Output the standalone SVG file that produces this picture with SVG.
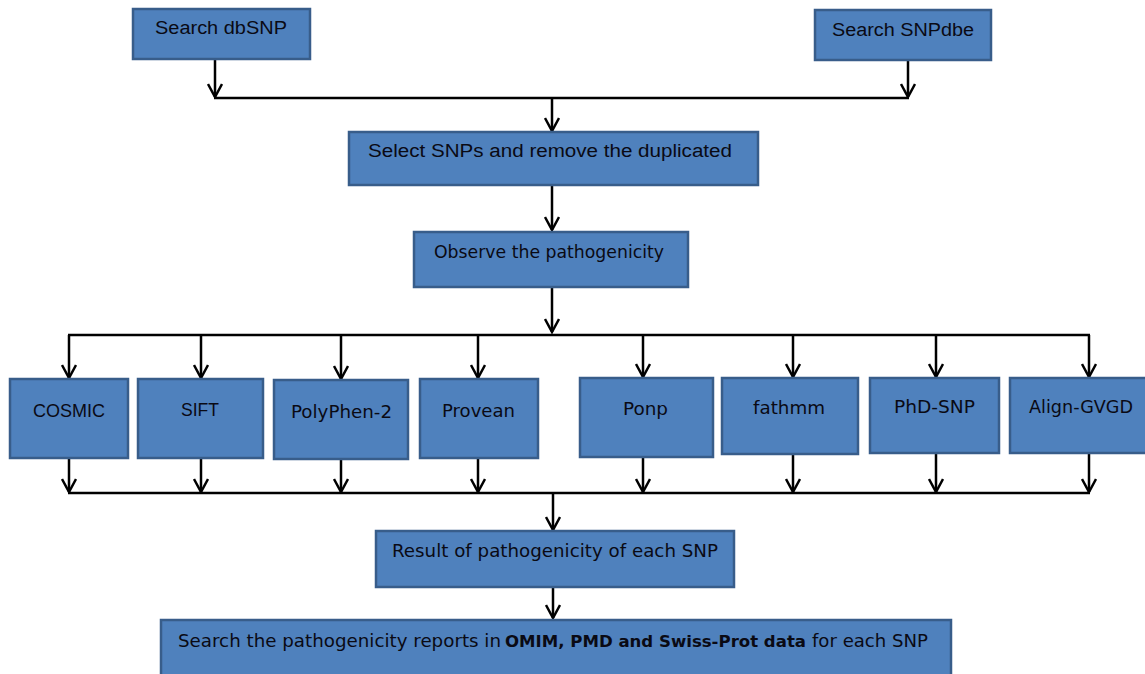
<svg xmlns="http://www.w3.org/2000/svg" width="1145" height="674" viewBox="0 0 1145 674">
<style>
.box{fill:#4F81BD;stroke:#385D8A;stroke-width:2.5}
.t{font-family:"Liberation Sans",Arial,sans-serif;font-size:18px;fill:#0a0a14}
.v{font-family:"DejaVu Sans",Verdana,sans-serif;font-size:18px;fill:#0a0a14}
.c{fill:none;stroke:#000;stroke-width:2.5}
.b{font-weight:bold;font-size:16.5px}
</style>
<defs>
<marker id="ah" markerUnits="userSpaceOnUse" viewBox="-1 -1 16 16" markerWidth="16" markerHeight="16" refX="13" refY="7" orient="auto">
<path d="M0,0 L13,7 L0,14" fill="none" stroke="#000" stroke-width="2.5"/>
</marker>
</defs>
<g id="connectors">
<path class="c" d="M215,59 V97" marker-end="url(#ah)"/>
<path class="c" d="M908,60 V97" marker-end="url(#ah)"/>
<path class="c" d="M214,98 H909"/>
<path class="c" d="M552,98 V131" marker-end="url(#ah)"/>
<path class="c" d="M552,185 V230" marker-end="url(#ah)"/>
<path class="c" d="M552,287 V332" marker-end="url(#ah)"/>
<path class="c" d="M68,335 H1090"/>
<path class="c" d="M69,335 V378" marker-end="url(#ah)"/>
<path class="c" d="M201,335 V378" marker-end="url(#ah)"/>
<path class="c" d="M341,335 V379" marker-end="url(#ah)"/>
<path class="c" d="M478,335 V378" marker-end="url(#ah)"/>
<path class="c" d="M643,335 V377" marker-end="url(#ah)"/>
<path class="c" d="M793,335 V377" marker-end="url(#ah)"/>
<path class="c" d="M936,335 V377" marker-end="url(#ah)"/>
<path class="c" d="M1089,335 V377" marker-end="url(#ah)"/>
<path class="c" d="M69,458 V492" marker-end="url(#ah)"/>
<path class="c" d="M201,458 V492" marker-end="url(#ah)"/>
<path class="c" d="M341,459 V492" marker-end="url(#ah)"/>
<path class="c" d="M478,458 V492" marker-end="url(#ah)"/>
<path class="c" d="M643,457 V492" marker-end="url(#ah)"/>
<path class="c" d="M793,454 V492" marker-end="url(#ah)"/>
<path class="c" d="M936,453 V492" marker-end="url(#ah)"/>
<path class="c" d="M1089,453 V492" marker-end="url(#ah)"/>
<path class="c" d="M68,493 H1090"/>
<path class="c" d="M553,493 V530" marker-end="url(#ah)"/>
<path class="c" d="M553,587 V618" marker-end="url(#ah)"/>
</g>
<g id="n1"><rect class="box" x="133" y="9" width="177" height="50"/><text class="t" x="155" y="34" textLength="132" lengthAdjust="spacingAndGlyphs">Search dbSNP</text></g>
<g id="n2"><rect class="box" x="815" y="10" width="176" height="50"/><text class="t" x="832" y="36" textLength="142" lengthAdjust="spacingAndGlyphs">Search SNPdbe</text></g>
<g id="n3"><rect class="box" x="349" y="132" width="409" height="53"/><text class="t" x="368" y="157" textLength="364" lengthAdjust="spacingAndGlyphs">Select SNPs and remove the duplicated</text></g>
<g id="n4"><rect class="box" x="414" y="232" width="274" height="55"/><text class="v" x="434" y="258" textLength="230" lengthAdjust="spacingAndGlyphs">Observe the pathogenicity</text></g>
<g id="n5"><rect class="box" x="10" y="379" width="118" height="79"/><text class="t" x="33" y="417" textLength="72" lengthAdjust="spacingAndGlyphs">COSMIC</text></g>
<g id="n6"><rect class="box" x="138" y="379" width="125" height="79"/><text class="t" x="181" y="416" textLength="38" lengthAdjust="spacingAndGlyphs">SIFT</text></g>
<g id="n7"><rect class="box" x="274" y="380" width="134" height="79"/><text class="v" x="291" y="418" textLength="101" lengthAdjust="spacingAndGlyphs">PolyPhen-2</text></g>
<g id="n8"><rect class="box" x="420" y="379" width="118" height="79"/><text class="v" x="442" y="417" textLength="73" lengthAdjust="spacingAndGlyphs">Provean</text></g>
<g id="n9"><rect class="box" x="580" y="378" width="133" height="79"/><text class="v" x="623" y="415" textLength="45" lengthAdjust="spacingAndGlyphs">Ponp</text></g>
<g id="n10"><rect class="box" x="722" y="378" width="136" height="76"/><text class="v" x="753" y="414" textLength="72" lengthAdjust="spacingAndGlyphs">fathmm</text></g>
<g id="n11"><rect class="box" x="870" y="378" width="129" height="75"/><text class="v" x="894" y="413" textLength="81" lengthAdjust="spacingAndGlyphs">PhD-SNP</text></g>
<g id="n12"><rect class="box" x="1010" y="378" width="140" height="75"/><text class="v" x="1029" y="413" textLength="104" lengthAdjust="spacingAndGlyphs">Align-GVGD</text></g>
<g id="n13"><rect class="box" x="376" y="531" width="358" height="56"/><text class="v" x="392" y="557" textLength="326" lengthAdjust="spacingAndGlyphs">Result of pathogenicity of each SNP</text></g>
<g id="n14"><rect class="box" x="161" y="620" width="790" height="62"/><text class="v" x="178" y="647" textLength="323" lengthAdjust="spacingAndGlyphs">Search the pathogenicity reports in</text><text class="v b" x="505" y="647" textLength="301" lengthAdjust="spacingAndGlyphs">OMIM, PMD and Swiss-Prot data</text><text class="v" x="812" y="647" textLength="116" lengthAdjust="spacingAndGlyphs">for each SNP</text></g>
</svg>
